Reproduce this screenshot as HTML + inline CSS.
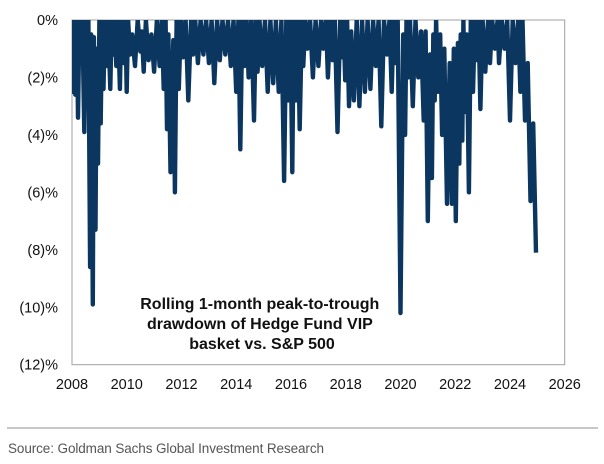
<!DOCTYPE html>
<html><head><meta charset="utf-8"><style>
body{margin:0;background:#fff;width:604px;height:464px;overflow:hidden;font-family:"Liberation Sans",Arial,sans-serif}
svg{display:block}
</style></head><body>
<svg width="604" height="464" id="chart">
<defs><clipPath id="pc"><rect x="72" y="20" width="492.7" height="344.7"/></clipPath></defs>
<rect x="72" y="20" width="492.7" height="344.7" fill="none" stroke="#a0a0a0" stroke-width="1"/>
<g id="yticks"></g>
<g id="xticks"></g>
<path id="series" clip-path="url(#pc)" fill="none" stroke="#0b3660" stroke-width="4.4" stroke-linejoin="round"/>
<text text-anchor="middle" font-weight="bold" font-size="16" fill="#111">
<tspan x="262" y="309">Rolling 1-month peak-to-trough</tspan>
<tspan x="262" y="329">drawdown of Hedge Fund VIP</tspan>
<tspan x="262" y="349">basket vs. S&amp;P 500</tspan>
</text>
<line x1="7" y1="428" x2="598" y2="428" stroke="#909090" stroke-width="1"/>
<text x="8" y="453" font-size="13.5" fill="#555" textLength="316">Source: Goldman Sachs Global Investment Research</text>
</svg>
<script>
const yTickValues=[0,2,4,6,8,10,12];
const yTickLabels=["0%","(2)%","(4)%","(6)%","(8)%","(10)%","(12)%"];
const xTickYears=[2008,2010,2012,2014,2016,2018,2020,2022,2024,2026];
const dates=[2008.0,2008.03,2008.08,2008.12,2008.18,2008.22,2008.27,2008.32,2008.38,2008.45,2008.5,2008.55,2008.6,2008.66,2008.7,2008.76,2008.8,2008.86,2008.9,2008.95,2009.0,2009.05,2009.1,2009.15,2009.2,2009.28,2009.32,2009.4,2009.45,2009.5,2009.55,2009.62,2009.68,2009.75,2009.8,2009.88,2009.95,2010.0,2010.05,2010.12,2010.2,2010.3,2010.4,2010.5,2010.55,2010.62,2010.7,2010.8,2010.9,2011.0,2011.1,2011.2,2011.28,2011.35,2011.42,2011.47,2011.52,2011.6,2011.7,2011.76,2011.82,2011.9,2011.98,2012.05,2012.15,2012.25,2012.35,2012.42,2012.5,2012.6,2012.7,2012.8,2012.9,2013.0,2013.1,2013.2,2013.3,2013.4,2013.5,2013.6,2013.7,2013.8,2013.9,2014.0,2014.08,2014.15,2014.22,2014.3,2014.38,2014.45,2014.55,2014.65,2014.72,2014.78,2014.85,2014.95,2015.05,2015.15,2015.25,2015.35,2015.45,2015.55,2015.65,2015.75,2015.83,2015.9,2015.98,2016.05,2016.1,2016.18,2016.25,2016.32,2016.4,2016.45,2016.52,2016.6,2016.7,2016.8,2016.9,2017.0,2017.1,2017.18,2017.28,2017.35,2017.44,2017.52,2017.6,2017.7,2017.8,2017.88,2017.92,2017.98,2018.05,2018.12,2018.2,2018.3,2018.4,2018.5,2018.6,2018.7,2018.8,2018.9,2019.0,2019.1,2019.2,2019.3,2019.4,2019.5,2019.6,2019.68,2019.75,2019.82,2019.9,2020.0,2020.1,2020.17,2020.22,2020.27,2020.35,2020.45,2020.55,2020.65,2020.75,2020.85,2020.92,2021.0,2021.08,2021.15,2021.2,2021.25,2021.3,2021.37,2021.45,2021.52,2021.6,2021.7,2021.8,2021.88,2021.95,2022.02,2022.1,2022.15,2022.2,2022.26,2022.3,2022.35,2022.42,2022.5,2022.57,2022.65,2022.72,2022.8,2022.85,2022.92,2023.0,2023.1,2023.2,2023.27,2023.35,2023.45,2023.55,2023.6,2023.7,2023.8,2023.9,2024.0,2024.1,2024.2,2024.3,2024.38,2024.46,2024.55,2024.65,2024.75,2024.85,2024.95,2025.02,2025.08,2025.12,2025.16,2025.2];
const drawdown=[0,2.5,0,2.6,0,3.4,0,1.5,0,3.9,0,3.0,0,8.6,0.5,9.9,0.6,7.3,1.0,5.0,0,3.6,0,2.4,0,1.6,0,2.4,0,1.2,0,1.6,0,2.4,0,1.5,0,2.5,0,1.2,0.5,1.6,0,1.1,0.4,1.8,0,1.4,0.5,1.8,0,1.6,0,2.4,0,3.8,0.5,5.3,0.7,6.0,0,2.4,0,1.3,0,2.8,0,1.2,0,1.5,0,1.2,0,1.5,0,2.2,0,1.4,0,1.2,0,1.6,0,2.5,0,4.5,0,1.6,0,2.0,0,3.5,0,1.8,0,1.6,0,2.5,0,2.2,0,2.5,0,5.6,0,2.8,0,5.3,0,2.8,0,3.8,0,1.6,0,1.0,0,2.0,0,1.6,0,1.0,0,2.0,0,1.4,0,3.9,0,1.3,0,2.1,0,3.0,0.4,2.8,0,3.0,0,2.5,0,2.4,0,1.6,0,3.7,0,1.2,0,2.5,0,1.5,0,10.2,0.5,4.0,0,2.0,0,3.0,0,2.0,0.4,3.5,0.4,7.0,1.2,5.5,0.5,2.8,0,2.5,0.5,4.0,1.0,6.4,1.5,6.4,1.0,7.0,0.8,5.0,0.5,4.2,0,3.2,0.5,6.0,0,2.5,0,1.4,0,3.1,0,1.8,0,1.5,0,1.0,0,1.5,0,1.0,0,3.5,0,1.5,0,2.5,0,3.5,1.5,6.3,3.6,8.1];
const X0=72,X1=564.7,Y0=20,Y1=364.7;
const xScale=y=>X0+(y-2008)/(2026-2008)*(X1-X0);
const yScale=v=>Y0+v/12*(Y1-Y0);
const NS="http://www.w3.org/2000/svg";
const yg=document.getElementById('yticks');
yTickValues.forEach((v,i)=>{
  const t=document.createElementNS(NS,'text');
  t.setAttribute('x',58);t.setAttribute('y',yScale(v)+5);
  t.setAttribute('text-anchor','end');t.setAttribute('font-size','14.5');t.setAttribute('fill','#111');
  
  
  t.textContent=yTickLabels[i];yg.appendChild(t);
});
const xg=document.getElementById('xticks');
xTickYears.forEach(yr=>{
  const t=document.createElementNS(NS,'text');
  t.setAttribute('x',xScale(yr));t.setAttribute('y',389);
  t.setAttribute('text-anchor','middle');t.setAttribute('font-size','14.5');t.setAttribute('fill','#111');
  
  
  t.textContent=yr;xg.appendChild(t);
});
let d='';
dates.forEach((yr,i)=>{d+=(i?'L':'M')+xScale(yr).toFixed(1)+','+yScale(drawdown[i]).toFixed(1);});
document.getElementById('series').setAttribute('d',d);
</script>
</body></html>
